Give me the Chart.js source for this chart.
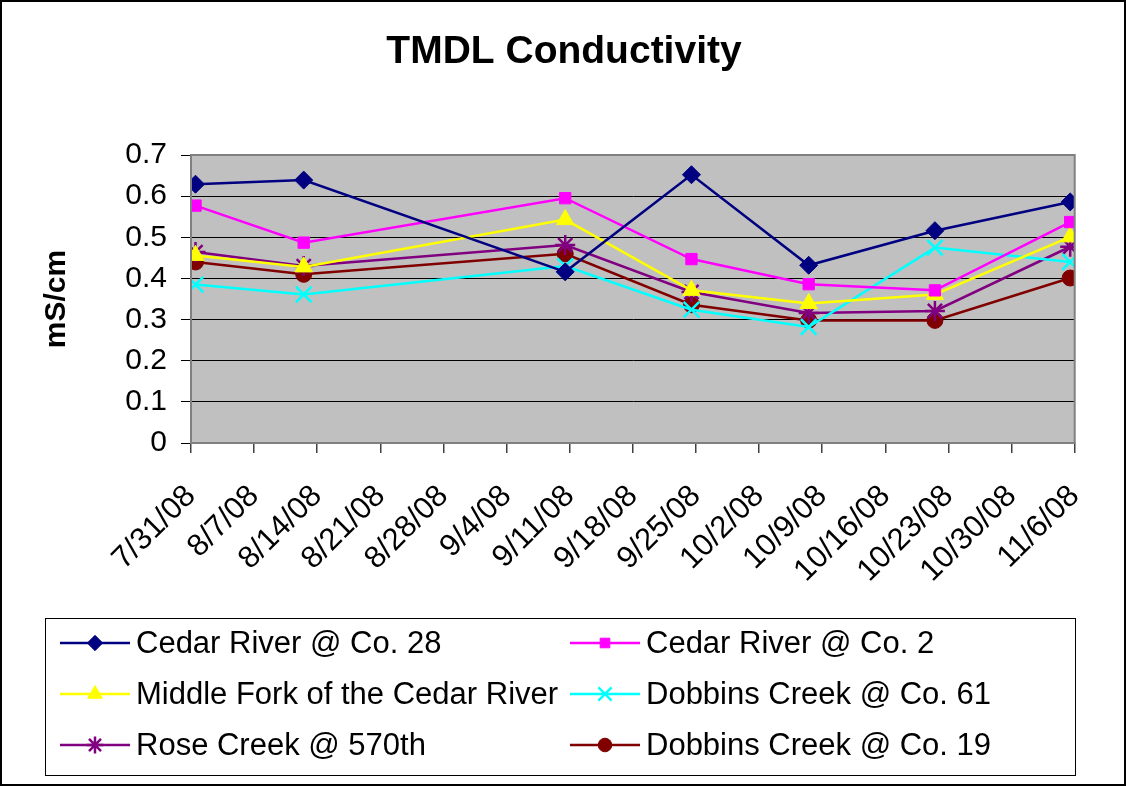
<!DOCTYPE html>
<html>
<head>
<meta charset="utf-8">
<script src="https://cdn.jsdelivr.net/npm/chart.js@4/dist/chart.umd.min.js"></script>
<style>
  html, body { margin: 0; padding: 0; background: #fff; }
  #wrap { width: 1126px; height: 786px; position: relative; }
</style>
</head>
<body>
<div id="wrap"><canvas id="chart" width="1126" height="786"></canvas></div>
<script>
// sample dates and readings (mS/cm)
const sampleDates = ['7/31/08', '8/12/08', '9/10/08', '9/24/08', '10/7/08', '10/21/08', '11/5/08'];
const axisStart = '7/31/08';
const axisEnd = '11/6/08';

const cedarCo28   = [0.629, 0.639, 0.416, 0.652, 0.432, 0.516, 0.586];
const cedarCo2    = [0.577, 0.487, 0.595, 0.447, 0.386, 0.371, 0.537];
const middleFork  = [0.456, 0.428, 0.543, 0.371, 0.339, 0.361, 0.501];
const dobbinsCo61 = [0.385, 0.361, 0.430, 0.324, 0.282, 0.475, 0.440];
const roseCreek   = [0.464, 0.430, 0.481, 0.367, 0.316, 0.321, 0.477];
const dobbinsCo19 = [0.440, 0.410, 0.460, 0.336, 0.298, 0.298, 0.401];

const FONT = '"Liberation Sans", Arial, sans-serif';
const DAY = 86400000;

function toDay(str) {
    const [m, d, y] = str.split('/').map(Number);
    return Date.UTC(2000 + y, m - 1, d) / DAY;
}
const day0 = toDay(axisStart);
function fromDay(n) {
    const dt = new Date((day0 + n) * DAY);
    return `${dt.getUTCMonth() + 1}/${dt.getUTCDate()}/${String(dt.getUTCFullYear()).slice(2)}`;
}

// Excel puts a point in the middle of its day
const xs = sampleDates.map(s => toDay(s) - day0 + 0.5);

function series(label, values, color, style, radius, extra) {
    return {
        label: label,
        data: values.map((v, i) => ({ x: xs[i], y: v })),
        borderColor: color,
        backgroundColor: color,
        borderWidth: 2.5,
        pointStyle: style,
        pointRadius: radius,
        pointBorderColor: color,
        pointBackgroundColor: color,
        pointBorderWidth: 1,
        tension: 0,
        ...extra
    };
}

const datasets = [
    series('Cedar River @ Co. 28', cedarCo28, '#000080', 'rectRot', 9),
    series('Cedar River @ Co. 2', cedarCo2, '#FF00FF', 'rect', 8),
    series('Middle Fork of the Cedar River', middleFork, '#FFFF00', 'triangle', 10),
    series('Dobbins Creek @ Co. 61', dobbinsCo61, '#00FFFF', 'crossRot', 11, { pointBorderWidth: 2.5 }),
    series('Rose Creek @ 570th', roseCreek, '#800080', 'star', 10, { pointBorderWidth: 2.5 }),
    series('Dobbins Creek @ Co. 19', dobbinsCo19, '#800000', 'circle', 8)
];

// plot background, frame and the two-column legend
const excelLook = {
    id: 'excelLook',
    beforeDraw(chart) {
        const { ctx, chartArea: a } = chart;
        ctx.save();
        ctx.fillStyle = '#fff';
        ctx.fillRect(0, 0, chart.width, chart.height);
        ctx.fillStyle = '#C0C0C0';
        ctx.fillRect(a.left, a.top, a.right - a.left, a.bottom - a.top);
        ctx.restore();
    },
    afterDraw(chart) {
        const { ctx, chartArea: a } = chart;
        ctx.save();
        ctx.strokeStyle = '#808080';
        ctx.lineWidth = 2;
        ctx.strokeRect(a.left, a.top, a.right - a.left, a.bottom - a.top);

        // outer frame
        ctx.strokeStyle = '#000';
        ctx.lineWidth = 2;
        ctx.strokeRect(1, 1, chart.width - 2, chart.height - 2);

        // title
        ctx.fillStyle = '#000';
        ctx.font = `bold 39px ${FONT}`;
        ctx.textAlign = 'center';
        ctx.textBaseline = 'middle';
        ctx.fillText('TMDL Conductivity', 564, 52);

        // legend
        ctx.lineWidth = 1;
        ctx.strokeStyle = '#000';
        ctx.strokeRect(45.5, 618.5, 1030, 157);
        const cols = [60, 570];
        const rows = [643, 694, 745];
        ctx.font = `31px ${FONT}`;
        ctx.textAlign = 'left';
        chart.data.datasets.forEach((ds, i) => {
            const x = cols[i % 2], y = rows[Math.floor(i / 2)];
            ctx.strokeStyle = ds.borderColor;
            ctx.lineWidth = 2.5;
            ctx.beginPath();
            ctx.moveTo(x, y);
            ctx.lineTo(x + 70, y);
            ctx.stroke();
            ctx.fillStyle = ds.pointBackgroundColor;
            ctx.strokeStyle = ds.pointBorderColor;
            ctx.lineWidth = ds.pointBorderWidth;
            Chart.helpers.drawPoint(ctx, {
                pointStyle: ds.pointStyle,
                radius: ds.pointRadius * 0.85,
                rotation: 0,
                borderWidth: ds.pointBorderWidth
            }, x + 35, y);
            ctx.fillStyle = '#000';
            ctx.fillText(ds.label, x + 76, y + 1);
        });
        ctx.restore();
    }
};

new Chart(document.getElementById('chart'), {
    type: 'line',
    data: { datasets: datasets },
    plugins: [excelLook],
    options: {
        responsive: false,
        animation: false,
        layout: { padding: { left: 0, right: 45, top: 155, bottom: 186 } },
        plugins: {
            legend: { display: false },
            tooltip: { enabled: false }
        },
        scales: {
            x: {
                type: 'linear',
                min: 0,
                max: toDay(axisEnd) - day0,
                afterFit: s => { s.height = 157; },
                ticks: {
                    stepSize: 7,
                    autoSkip: false,
                    minRotation: 45,
                    maxRotation: 45,
                    padding: 25,
                    color: '#000',
                    font: { family: FONT, size: 31 },
                    callback: v => fromDay(v)
                },
                grid: {
                    drawOnChartArea: false,
                    color: '#404040',
                    tickLength: 10,
                    lineWidth: 1.5
                },
                border: { color: '#808080', width: 2 }
            },
            y: {
                min: 0,
                max: 0.7,
                afterFit: s => { s.width = 191; },
                ticks: {
                    stepSize: 0.1,
                    padding: 14,
                    color: '#000',
                    font: { family: FONT, size: 30 },
                    callback: v => String(Math.round(v * 10) / 10)
                },
                grid: {
                    color: '#000',
                    lineWidth: 1,
                    tickLength: 10
                },
                border: { color: '#808080', width: 2 },
                title: {
                    display: true,
                    text: 'mS/cm',
                    color: '#000',
                    font: { family: FONT, size: 30, weight: 'bold' },
                    padding: { top: 39, bottom: 0 }
                }
            }
        }
    }
});
</script>
</body>
</html>
